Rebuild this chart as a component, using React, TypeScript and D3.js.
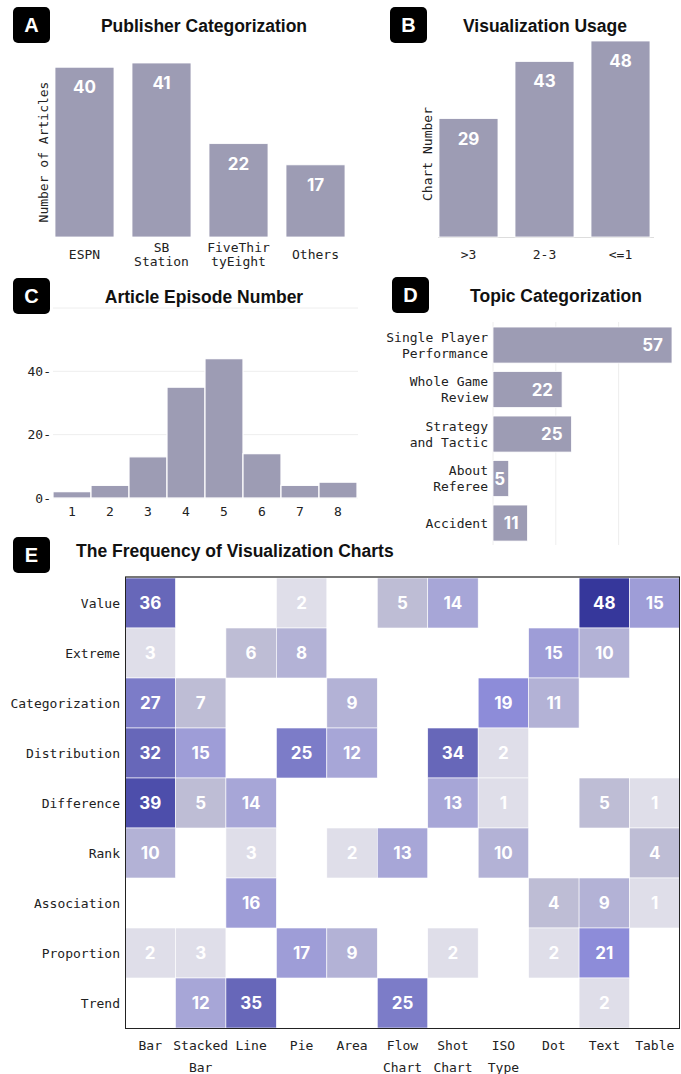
import * as d3 from "d3";

const publishers = ["ESPN", "SB\nStation", "FiveThir\ntyEight", "Others"];
const publisherCounts = [40, 41, 22, 17];

const usageGroups = [">3", "2-3", "<=1"];
const usageCounts = [29, 43, 48];

const episodes = ["1", "2", "3", "4", "5", "6", "7", "8"];
const episodeCounts = [2, 4, 13, 35, 44, 14, 4, 5];
const episodeTicks = [0, 20, 40];

const topics = ["Single Player\nPerformance", "Whole Game\nReview", "Strategy\nand Tactic", "About\nReferee", "Accident"];
const topicCounts = [57, 22, 25, 5, 11];

const purposes = ["Value", "Extreme", "Categorization", "Distribution", "Difference", "Rank", "Association", "Proportion", "Trend"];
const chartTypes = ["Bar", "Stacked\nBar", "Line", "Pie", "Area", "Flow\nChart", "Shot\nChart", "ISO\nType", "Dot", "Text", "Table"];
// rows follow purposes, columns follow chartTypes, 0 = empty cell
const frequency = [
  [36, 0, 0, 2, 0, 5, 14, 0, 0, 48, 15],
  [3, 0, 6, 8, 0, 0, 0, 0, 15, 10, 0],
  [27, 7, 0, 0, 9, 0, 0, 19, 11, 0, 0],
  [32, 15, 0, 25, 12, 0, 34, 2, 0, 0, 0],
  [39, 5, 14, 0, 0, 0, 13, 1, 0, 5, 1],
  [10, 0, 3, 0, 2, 13, 0, 10, 0, 0, 4],
  [0, 0, 16, 0, 0, 0, 0, 0, 4, 9, 1],
  [2, 3, 0, 17, 9, 0, 2, 0, 2, 21, 0],
  [0, 12, 35, 0, 0, 25, 0, 0, 0, 2, 0],
];

const BAR = "#9d9cb4";
const MONO = "'DejaVu Sans Mono', monospace";
const SANS = "Inter, 'Liberation Sans', sans-serif";
const TITLE = "'Liberation Sans', Arial, sans-serif";

const heatColor = d3
  .scaleThreshold<number, string>()
  .domain([4, 8, 12, 15, 19, 25, 30, 38, 45])
  .range(["#dfdee9", "#bebdd5", "#b3b2d6", "#a7a6d7", "#9e9dd7", "#8d8cd9", "#7c7cc8", "#6767b9", "#4d4eab", "#36379b"]);

function Badge({ x, y, letter }) {
  return (
    <g>
      <rect x={x} y={y} width={37} height={36} rx={5} fill="#000" />
      <text x={x + 18.5} y={y + 25} textAnchor="middle" fill="#fff" fontFamily={TITLE} fontWeight={700} fontSize={20}>
        {letter}
      </text>
    </g>
  );
}

function Lines({ x, y, text, lh, anchor = "middle", size = 13 }) {
  const parts = text.split("\n");
  const y0 = y - ((parts.length - 1) * lh) / 2;
  return (
    <text textAnchor={anchor} fontFamily={MONO} fontSize={size} fill="#222">
      {parts.map((p, i) => (
        <tspan key={i} x={x} y={y0 + i * lh + 4.5}>
          {p}
        </tspan>
      ))}
    </text>
  );
}

function Title({ x, y, text, anchor = "middle", size = 17.5 }) {
  return (
    <text x={x} y={y} textAnchor={anchor} fontFamily={TITLE} fontWeight={700} fontSize={size} fill="#111">
      {text}
    </text>
  );
}

function PanelA() {
  const x = d3.scaleBand().domain(publishers).range([46, 354]).paddingInner(0.234).paddingOuter(0.117);
  const y = d3.scaleLinear().domain([0, 41]).range([237, 63]);
  return (
    <g>
      <Badge x={13} y={7} letter="A" />
      <Title x={204} y={32} text="Publisher Categorization" />
      <text transform="translate(48,152) rotate(-90)" textAnchor="middle" fontFamily={MONO} fontSize={13} fill="#222">
        Number of Articles
      </text>
      {publishers.map((p, i) => (
        <g key={p}>
          <rect x={x(p)} y={y(publisherCounts[i])} width={x.bandwidth()} height={y(0) - y(publisherCounts[i])} fill={BAR} stroke="#fff" strokeWidth={0.8} />
          <text x={x(p)! + x.bandwidth() / 2} y={y(publisherCounts[i]) + 26} textAnchor="middle" fill="#fff" fontFamily={SANS} fontWeight={700} fontSize={17}>
            {publisherCounts[i]}
          </text>
          <Lines x={x(p)! + x.bandwidth() / 2} y={254} text={p} lh={14} />
        </g>
      ))}
    </g>
  );
}

function PanelB() {
  const x = d3.scaleBand().domain(usageGroups).range([430.5, 658.5]).paddingInner(0.224).paddingOuter(0.112);
  const y = d3.scaleLinear().domain([0, 48]).range([237, 41]);
  return (
    <g>
      <Badge x={390} y={7} letter="B" />
      <Title x={545} y={32} text="Visualization Usage" />
      <text transform="translate(432,154) rotate(-90)" textAnchor="middle" fontFamily={MONO} fontSize={13} fill="#222">
        Chart Number
      </text>
      <line x1={438} x2={654} y1={237.5} y2={237.5} stroke="#ddd" />
      {usageGroups.map((g, i) => (
        <g key={g}>
          <rect x={x(g)} y={y(usageCounts[i])} width={x.bandwidth()} height={y(0) - y(usageCounts[i])} fill={BAR} stroke="#fff" strokeWidth={0.8} />
          <text x={x(g)! + x.bandwidth() / 2} y={y(usageCounts[i]) + 26} textAnchor="middle" fill="#fff" fontFamily={SANS} fontWeight={700} fontSize={17}>
            {usageCounts[i]}
          </text>
          <Lines x={x(g)! + x.bandwidth() / 2} y={254} text={g} lh={14} />
        </g>
      ))}
    </g>
  );
}

function PanelC() {
  const x = d3.scaleBand().domain(episodes).range([53, 357]);
  const y = d3.scaleLinear().domain([0, 60]).range([498, 308]);
  return (
    <g>
      <Badge x={13} y={278} letter="C" />
      <Title x={204} y={303} text="Article Episode Number" />
      {[...episodeTicks, 60].map((t) => (
        <line key={t} x1={53} x2={358} y1={y(t)} y2={y(t)} stroke="#eee" />
      ))}
      {episodeTicks.map((t) => (
        <text key={t} x={51} y={y(t) + 4.5} textAnchor="end" fontFamily={MONO} fontSize={13} fill="#222">
          {t}-
        </text>
      ))}
      {episodes.map((e, i) => (
        <g key={e}>
          <rect x={x(e)} y={y(episodeCounts[i])} width={x.bandwidth()} height={y(0) - y(episodeCounts[i])} fill={BAR} stroke="#fff" strokeWidth={1.2} />
          <Lines x={x(e)! + x.bandwidth() / 2} y={511} text={e} lh={14} />
        </g>
      ))}
    </g>
  );
}

function PanelD() {
  const y = d3.scaleBand().domain(topics).range([322.8, 545.3]).paddingInner(0.19).paddingOuter(0.095);
  const x = d3.scaleLinear().domain([0, 57]).range([493, 672]);
  return (
    <g>
      <Badge x={392} y={277} letter="D" />
      <Title x={556} y={302} text="Topic Categorization" />
      {[0, 20, 40].map((t) => (
        <line key={t} x1={x(t)} x2={x(t)} y1={322} y2={545} stroke="#eee" />
      ))}
      {topics.map((t, i) => {
        const end = x(topicCounts[i]);
        const cy = y(t)! + y.bandwidth() / 2;
        return (
          <g key={t}>
            <rect x={x(0)} y={y(t)} width={end - x(0)} height={y.bandwidth()} fill={BAR} stroke="#fff" strokeWidth={0.8} />
            <text x={Math.max(end - 9, x(0) + 12)} y={cy + 6} textAnchor="end" fill="#fff" fontFamily={SANS} fontWeight={700} fontSize={17}>
              {topicCounts[i]}
            </text>
            <Lines x={488} y={cy} text={t} lh={16} anchor="end" />
          </g>
        );
      })}
    </g>
  );
}

function PanelE() {
  const x = d3.scaleBand().domain(chartTypes).range([125, 680]);
  const y = d3.scaleBand().domain(purposes).range([578, 1028]);
  return (
    <g>
      <Badge x={13} y={537} letter="E" />
      <Title x={76} y={557} text="The Frequency of Visualization Charts" anchor="start" />
      {purposes.map((p, r) => (
        <g key={p}>
          {chartTypes.map((c, k) => {
            const v = frequency[r][k];
            if (!v) return null;
            return (
              <g key={c}>
                <rect x={x(c)} y={y(p)} width={x.bandwidth()} height={y.bandwidth()} fill={heatColor(v)} stroke="#fff" strokeWidth={0.6} />
                <text x={x(c)! + x.bandwidth() / 2} y={y(p)! + y.bandwidth() / 2 + 6} textAnchor="middle" fill="#fff" fontFamily={SANS} fontWeight={700} fontSize={17}>
                  {v}
                </text>
              </g>
            );
          })}
          <Lines x={120} y={y(p)! + y.bandwidth() / 2} text={p} lh={14} anchor="end" />
        </g>
      ))}
      <line x1={125} x2={680} y1={577} y2={577} stroke="#777" strokeWidth={2} />
      <line x1={125.5} x2={125.5} y1={577} y2={1028} stroke="#222" />
      <line x1={679.5} x2={679.5} y1={577} y2={1028} stroke="#222" />
      <line x1={125} x2={680} y1={1028.5} y2={1028.5} stroke="#222" />
      {chartTypes.map((c) => {
        const parts = c.split("\n");
        return (
          <text key={c} textAnchor="middle" fontFamily={MONO} fontSize={13} fill="#222">
            {parts.map((p, i) => (
              <tspan key={i} x={x(c)! + x.bandwidth() / 2} y={1050 + i * 22}>
                {p}
              </tspan>
            ))}
          </text>
        );
      })}
    </g>
  );
}

export default function App() {
  return (
    <svg width={681} height={1074} style={{ position: "absolute", left: 0, top: 0, background: "#fff" }}>
      <PanelA />
      <PanelB />
      <PanelC />
      <PanelD />
      <PanelE />
    </svg>
  );
}
